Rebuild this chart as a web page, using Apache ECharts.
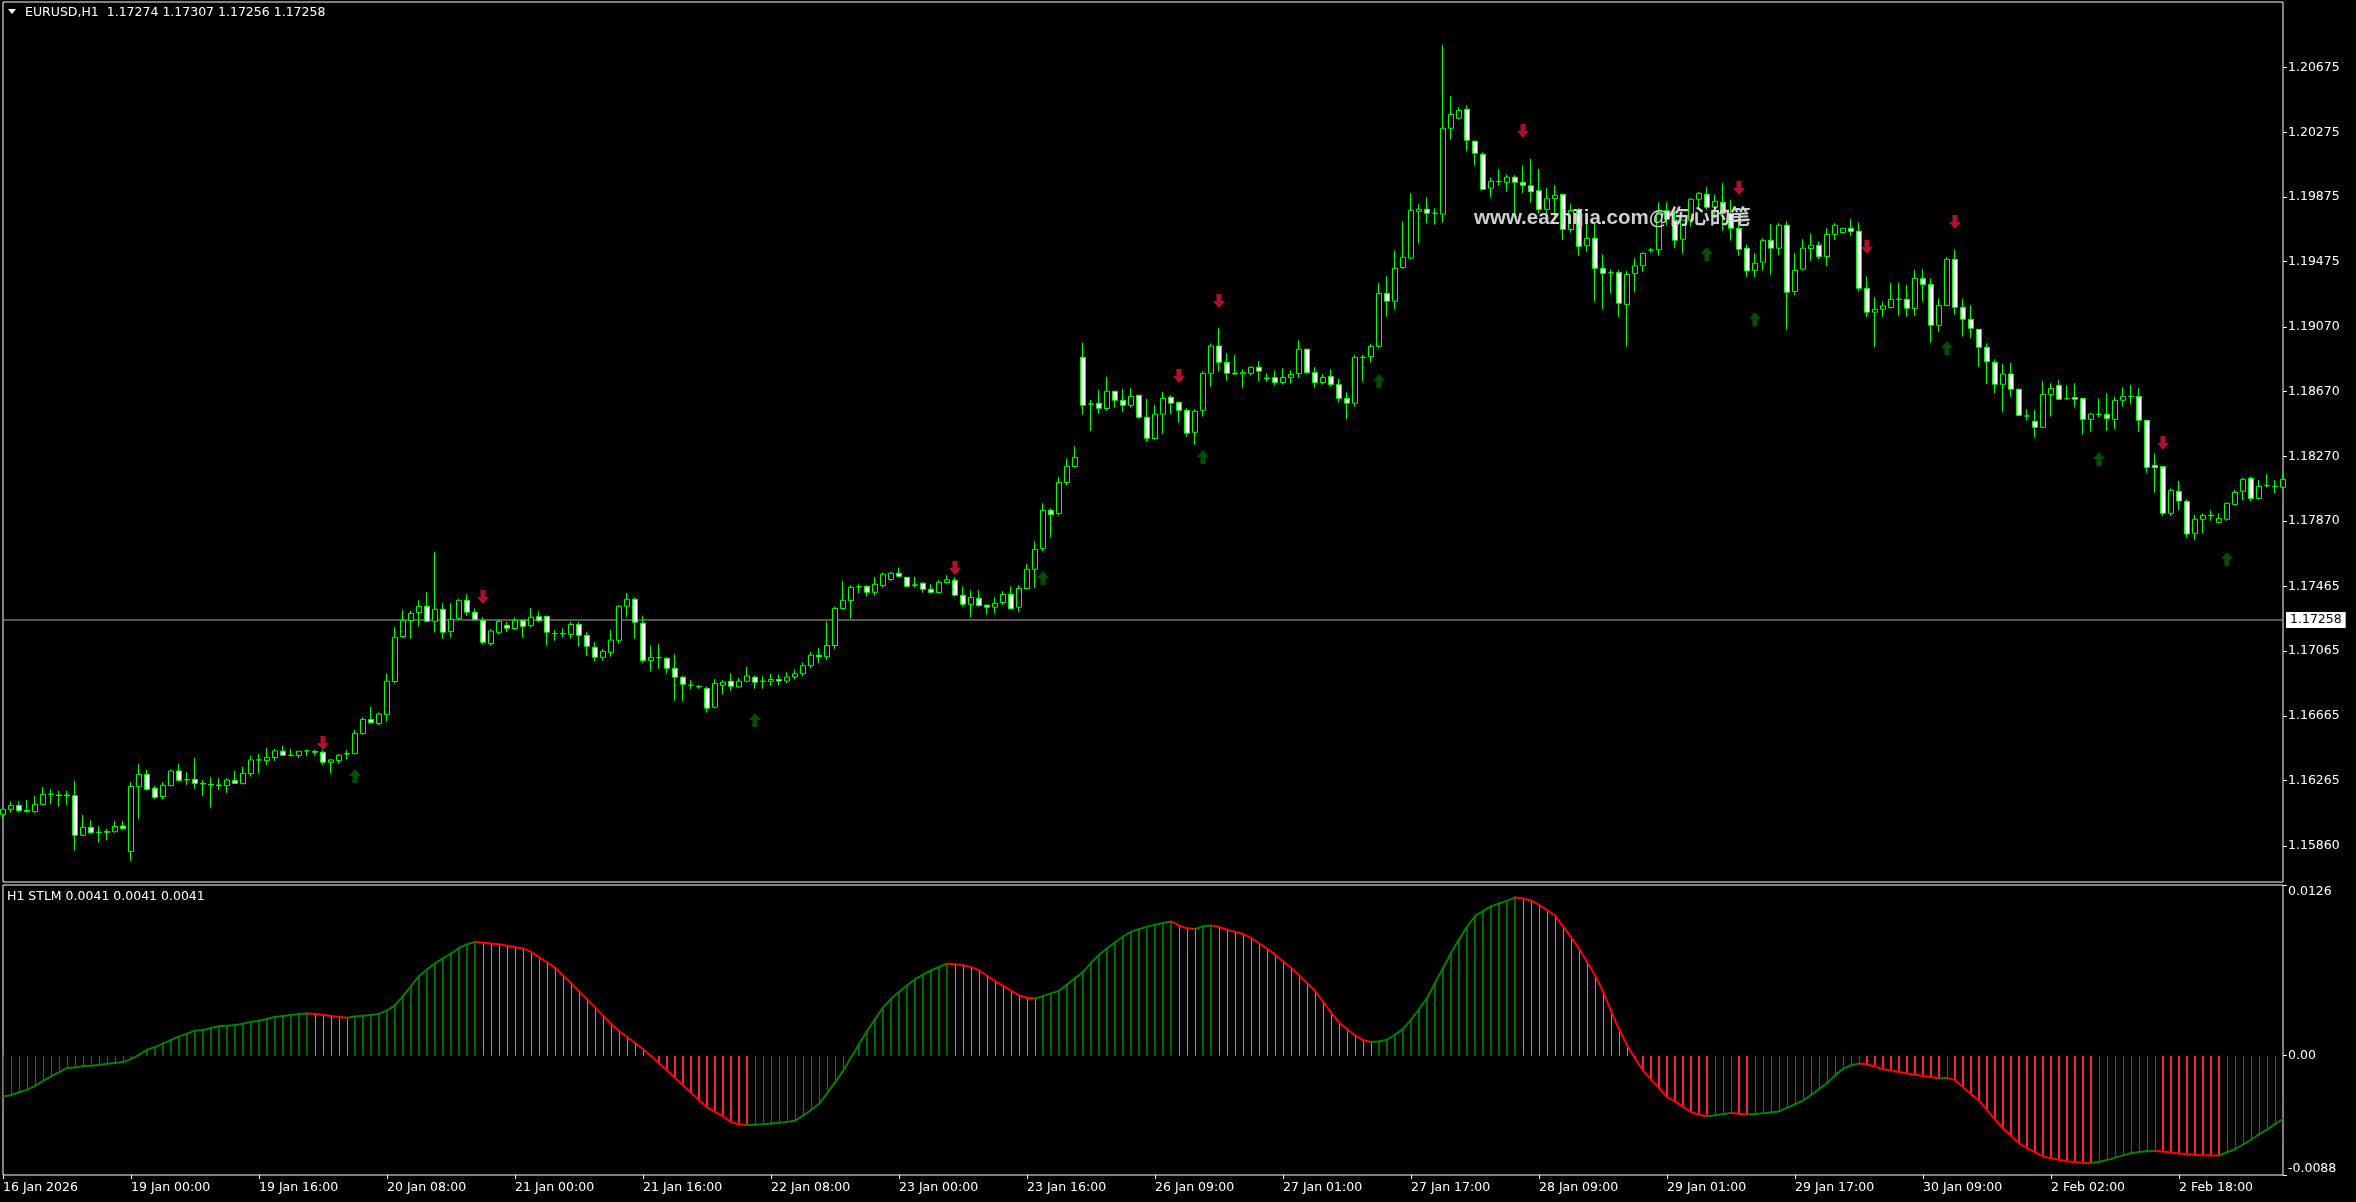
<!DOCTYPE html>
<html>
<head>
<meta charset="utf-8">
<title>EURUSD,H1</title>
<script src="https://cdn.jsdelivr.net/npm/echarts@6/dist/echarts.min.js"></script>
<style>
  html, body { margin: 0; padding: 0; background: #000; }
  #chart { width: 2356px; height: 1202px; }
</style>
</head>
<body>
<div id="chart"></div>
<script>
// trading sessions of the H1 bars: [day, first hour, last hour]
const sessions = [
  ['16 Jan', 7, 22], ['19 Jan', 0, 23], ['20 Jan', 0, 23], ['21 Jan', 0, 23],
  ['22 Jan', 0, 23], ['23 Jan', 0, 22], ['26 Jan', 0, 23], ['27 Jan', 0, 23],
  ['28 Jan', 0, 23], ['29 Jan', 0, 23], ['30 Jan', 0, 22], ['2 Feb', 0, 23], ['3 Feb', 0, 7]
];
// time labels, one every 16 bars
const dateTicks = ['16 Jan 2026', '19 Jan 00:00', '19 Jan 16:00', '20 Jan 08:00', '21 Jan 00:00',
  '21 Jan 16:00', '22 Jan 08:00', '23 Jan 00:00', '23 Jan 16:00', '26 Jan 09:00', '27 Jan 01:00',
  '27 Jan 17:00', '28 Jan 09:00', '29 Jan 01:00', '29 Jan 17:00', '30 Jan 09:00', '2 Feb 02:00', '2 Feb 18:00'];
const priceTicks = [1.20675, 1.20275, 1.19875, 1.19475, 1.19070, 1.18670, 1.18270,
  1.17870, 1.17465, 1.17065, 1.16665, 1.16265, 1.15860];
const stlmTicks = [-0.0088, 0, 0.0126];
const bidPrice = 1.17258;

const openP = [
  1.16056,1.16087,1.16111,1.16080,1.16072,1.16118,1.16180,1.16175,1.16175,1.16171,
  1.15926,1.15975,1.15944,1.15944,1.15948,1.15983,1.15825,1.16229,1.16303,1.16217,
  1.16165,1.16233,1.16324,1.16270,1.16272,1.16247,1.16240,1.16237,1.16233,1.16266,
  1.16245,1.16307,1.16392,1.16388,1.16406,1.16446,1.16421,1.16419,1.16448,1.16444,
  1.16440,1.16378,1.16388,1.16429,1.16431,1.16555,1.16643,1.16617,1.16672,1.16877,
  1.17155,1.17254,1.17303,1.17343,1.17250,1.17324,1.17186,1.17266,1.17380,1.17306,
  1.17256,1.17112,1.17182,1.17225,1.17205,1.17256,1.17223,1.17279,1.17281,1.17174,
  1.17174,1.17169,1.17231,1.17163,1.17089,1.17027,1.17058,1.17132,1.17343,1.17386,
  1.17238,1.17009,1.17025,1.17021,1.16959,1.16904,1.16854,1.16846,1.16835,1.16718,
  1.16854,1.16879,1.16844,1.16879,1.16904,1.16879,1.16879,1.16890,1.16880,1.16905,
  1.16925,1.16975,1.17040,1.17030,1.17100,1.17328,1.17378,1.17464,1.17466,1.17429,
  1.17471,1.17508,1.17547,1.17522,1.17475,1.17485,1.17448,1.17427,1.17489,1.17504,
  1.17411,1.17355,1.17392,1.17349,1.17337,1.17366,1.17417,1.17337,1.17452,1.17572,
  1.17699,1.17937,1.17916,1.18108,1.18207,1.18883,1.18594,1.18599,1.18566,1.18673,
  1.18617,1.18586,1.18648,1.18512,1.18380,1.18531,1.18636,1.18605,1.18555,1.18419,
  1.18555,1.18784,1.18953,1.18852,1.18784,1.18780,1.18784,1.18821,1.18755,1.18757,
  1.18727,1.18757,1.18782,1.18933,1.18788,1.18727,1.18764,1.18714,1.18629,1.18599,
  1.18883,1.18887,1.18951,1.19279,1.19230,1.19438,1.19496,1.19786,1.19799,1.19774,
  1.19768,1.20300,1.20362,1.20417,1.20219,1.20139,1.19929,1.19970,1.19966,1.19997,
  1.19966,1.19944,1.19913,1.19798,1.19866,1.19891,1.19674,1.19798,1.19573,1.19619,
  1.19433,1.19406,1.19408,1.19210,1.19402,1.19449,1.19546,1.19548,1.19790,1.19731,
  1.19613,1.19731,1.19861,1.19892,1.19811,1.19842,1.19774,1.19681,1.19558,1.19421,
  1.19471,1.19607,1.19558,1.19700,1.19290,1.19428,1.19556,1.19576,1.19506,1.19644,
  1.19654,1.19681,1.19663,1.19310,1.19162,1.19180,1.19191,1.19242,1.19242,1.19186,
  1.19371,1.19334,1.19081,1.19204,1.19489,1.19192,1.19118,1.19056,1.18945,1.18852,
  1.18716,1.18780,1.18685,1.18520,1.18487,1.18450,1.18654,1.18709,1.18627,1.18635,
  1.18629,1.18499,1.18530,1.18530,1.18499,1.18617,1.18641,1.18641,1.18493,1.18215,
  1.18208,1.17918,1.18054,1.17992,1.17794,1.17881,1.17905,1.17862,1.17881,1.17973,
  1.18054,1.18134,1.18010,1.18089,1.18083,1.18079
];
const highP = [
  1.16091,1.16136,1.16136,1.16144,1.16169,1.16225,1.16212,1.16200,1.16200,1.16262,
  1.16052,1.16021,1.15984,1.15965,1.16014,1.16014,1.16254,1.16367,1.16330,1.16231,
  1.16254,1.16330,1.16367,1.16318,1.16404,1.16268,1.16287,1.16280,1.16280,1.16324,
  1.16349,1.16417,1.16429,1.16466,1.16460,1.16479,1.16460,1.16446,1.16454,1.16454,
  1.16454,1.16398,1.16429,1.16454,1.16577,1.16656,1.16720,1.16685,1.16928,1.17213,
  1.17320,1.17314,1.17380,1.17429,1.17679,1.17361,1.17361,1.17386,1.17419,1.17330,
  1.17275,1.17200,1.17258,1.17246,1.17275,1.17258,1.17330,1.17312,1.17283,1.17196,
  1.17207,1.17246,1.17246,1.17182,1.17122,1.17077,1.17196,1.17349,1.17425,1.17398,
  1.17283,1.17101,1.17110,1.17027,1.17046,1.16910,1.16885,1.16854,1.16846,1.16891,
  1.16885,1.16928,1.16899,1.16967,1.16912,1.16912,1.16925,1.16920,1.16935,1.16950,
  1.16995,1.17060,1.17085,1.17248,1.17340,1.17499,1.17473,1.17479,1.17473,1.17524,
  1.17553,1.17553,1.17580,1.17524,1.17524,1.17491,1.17479,1.17504,1.17535,1.17522,
  1.17466,1.17442,1.17442,1.17355,1.17398,1.17436,1.17466,1.17473,1.17605,1.17745,
  1.17980,1.17949,1.18141,1.18258,1.18333,1.18972,1.18619,1.18681,1.18761,1.18675,
  1.18687,1.18693,1.18650,1.18625,1.18588,1.18669,1.18650,1.18607,1.18568,1.18561,
  1.18795,1.18966,1.19065,1.18908,1.18896,1.18809,1.18827,1.18858,1.18784,1.18803,
  1.18815,1.18803,1.18988,1.18935,1.18821,1.18778,1.18809,1.18751,1.18667,1.18896,
  1.18896,1.18964,1.19341,1.19384,1.19545,1.19724,1.19898,1.19830,1.19873,1.19805,
  1.20816,1.20498,1.20430,1.20442,1.20225,1.20151,1.19997,1.20046,1.20015,1.20009,
  1.20071,1.20110,1.20047,1.19932,1.19946,1.19893,1.19831,1.19804,1.19711,1.19711,
  1.19520,1.19427,1.19423,1.19417,1.19497,1.19532,1.19559,1.19841,1.19842,1.19795,
  1.19731,1.19867,1.19904,1.19935,1.19892,1.19960,1.19857,1.19743,1.19578,1.19527,
  1.19619,1.19706,1.19712,1.19725,1.19527,1.19613,1.19646,1.19601,1.19681,1.19712,
  1.19681,1.19737,1.19718,1.19382,1.19254,1.19228,1.19341,1.19347,1.19331,1.19423,
  1.19429,1.19371,1.19248,1.19501,1.19547,1.19242,1.19204,1.19058,1.18969,1.18870,
  1.18841,1.18848,1.18691,1.18561,1.18557,1.18736,1.18722,1.18742,1.18709,1.18722,
  1.18631,1.18536,1.18629,1.18660,1.18639,1.18697,1.18712,1.18691,1.18495,1.18289,
  1.18211,1.18072,1.18118,1.18004,1.17907,1.17918,1.17938,1.17918,1.17984,1.18062,
  1.18138,1.18145,1.18124,1.18161,1.18124,1.18161
];
const lowP = [
  1.16031,1.16066,1.16070,1.16066,1.16066,1.16113,1.16120,1.16103,1.16115,1.15831,
  1.15922,1.15934,1.15881,1.15897,1.15942,1.15959,1.15769,1.16027,1.16202,1.16149,
  1.16149,1.16231,1.16258,1.16237,1.16214,1.16169,1.16097,1.16206,1.16188,1.16243,
  1.16243,1.16289,1.16307,1.16361,1.16386,1.16417,1.16413,1.16404,1.16417,1.16423,
  1.16363,1.16307,1.16369,1.16394,1.16429,1.16549,1.16615,1.16609,1.16627,1.16866,
  1.17147,1.17143,1.17217,1.17246,1.17180,1.17143,1.17149,1.17258,1.17283,1.17254,
  1.17108,1.17099,1.17169,1.17184,1.17196,1.17149,1.17211,1.17246,1.17099,1.17130,
  1.17149,1.17143,1.17093,1.17037,1.17002,1.17007,1.17031,1.17114,1.17277,1.17143,
  1.16994,1.16939,1.16957,1.16926,1.16759,1.16753,1.16829,1.16833,1.16685,1.16712,
  1.16798,1.16821,1.16840,1.16875,1.16833,1.16833,1.16850,1.16855,1.16865,1.16890,
  1.16910,1.16960,1.16990,1.17010,1.17080,1.17320,1.17266,1.17423,1.17403,1.17411,
  1.17458,1.17502,1.17520,1.17462,1.17458,1.17427,1.17423,1.17421,1.17485,1.17403,
  1.17341,1.17273,1.17341,1.17291,1.17297,1.17353,1.17322,1.17310,1.17448,1.17458,
  1.17683,1.17768,1.17904,1.18089,1.18201,1.18528,1.18427,1.18535,1.18553,1.18572,
  1.18547,1.18572,1.18504,1.18361,1.18374,1.18411,1.18531,1.18479,1.18392,1.18343,
  1.18516,1.18702,1.18795,1.18739,1.18776,1.18696,1.18770,1.18733,1.18733,1.18708,
  1.18714,1.18720,1.18757,1.18782,1.18696,1.18714,1.18702,1.18605,1.18500,1.18578,
  1.18733,1.18852,1.18939,1.19135,1.19178,1.19432,1.19489,1.19588,1.19712,1.19704,
  1.19716,1.20230,1.20355,1.20157,1.20069,1.19918,1.19873,1.19945,1.19908,1.19743,
  1.19898,1.19840,1.19773,1.19742,1.19753,1.19608,1.19654,1.19509,1.19536,1.19227,
  1.19183,1.19278,1.19134,1.18948,1.19289,1.19412,1.19532,1.19511,1.19700,1.19558,
  1.19527,1.19692,1.19799,1.19795,1.19743,1.19667,1.19605,1.19512,1.19382,1.19378,
  1.19419,1.19393,1.19516,1.19052,1.19269,1.19419,1.19481,1.19492,1.19448,1.19609,
  1.19646,1.19634,1.19290,1.19131,1.18945,1.19131,1.19186,1.19141,1.19135,1.19140,
  1.19227,1.18973,1.19041,1.19200,1.19147,1.19011,1.19004,1.18825,1.18716,1.18660,
  1.18543,1.18639,1.18520,1.18491,1.18388,1.18448,1.18516,1.18621,1.18619,1.18573,
  1.18406,1.18423,1.18512,1.18429,1.18437,1.18578,1.18596,1.18423,1.18169,1.18046,
  1.17901,1.17901,1.17938,1.17767,1.17753,1.17794,1.17872,1.17860,1.17872,1.17965,
  1.18000,1.17996,1.18004,1.18079,1.18041,1.18072
];
const closeP = [
  1.16087,1.16111,1.16078,1.16074,1.16118,1.16180,1.16180,1.16172,1.16170,1.15926,
  1.15975,1.15942,1.15944,1.15950,1.15981,1.15967,1.16229,1.16303,1.16210,1.16161,
  1.16235,1.16324,1.16266,1.16270,1.16247,1.16243,1.16237,1.16233,1.16268,1.16247,
  1.16309,1.16392,1.16392,1.16408,1.16448,1.16421,1.16421,1.16446,1.16448,1.16440,
  1.16378,1.16392,1.16421,1.16431,1.16557,1.16643,1.16623,1.16676,1.16879,1.17151,
  1.17256,1.17299,1.17343,1.17250,1.17324,1.17182,1.17262,1.17380,1.17306,1.17260,
  1.17120,1.17190,1.17250,1.17207,1.17256,1.17219,1.17275,1.17254,1.17182,1.17174,
  1.17172,1.17231,1.17163,1.17095,1.17027,1.17064,1.17134,1.17343,1.17386,1.17244,
  1.17007,1.17027,1.17025,1.16959,1.16904,1.16860,1.16854,1.16844,1.16712,1.16866,
  1.16873,1.16848,1.16879,1.16912,1.16873,1.16879,1.16890,1.16880,1.16905,1.16925,
  1.16975,1.17040,1.17030,1.17100,1.17330,1.17380,1.17460,1.17464,1.17429,1.17479,
  1.17541,1.17547,1.17528,1.17466,1.17473,1.17448,1.17429,1.17491,1.17506,1.17411,
  1.17355,1.17398,1.17347,1.17337,1.17361,1.17417,1.17328,1.17454,1.17572,1.17695,
  1.17937,1.17910,1.18110,1.18209,1.18264,1.18586,1.18594,1.18568,1.18673,1.18617,
  1.18586,1.18642,1.18512,1.18382,1.18531,1.18629,1.18599,1.18555,1.18413,1.18549,
  1.18784,1.18953,1.18852,1.18784,1.18780,1.18788,1.18821,1.18797,1.18751,1.18727,
  1.18759,1.18778,1.18933,1.18788,1.18727,1.18759,1.18714,1.18629,1.18599,1.18883,
  1.18883,1.18951,1.19279,1.19230,1.19434,1.19502,1.19793,1.19799,1.19774,1.19774,
  1.20300,1.20386,1.20411,1.20225,1.20145,1.19922,1.19972,1.19970,1.19997,1.19966,
  1.19947,1.19907,1.19798,1.19864,1.19885,1.19674,1.19792,1.19569,1.19619,1.19433,
  1.19402,1.19406,1.19217,1.19396,1.19449,1.19526,1.19546,1.19779,1.19737,1.19607,
  1.19731,1.19861,1.19898,1.19811,1.19848,1.19774,1.19681,1.19551,1.19417,1.19465,
  1.19607,1.19558,1.19700,1.19285,1.19421,1.19558,1.19576,1.19506,1.19644,1.19700,
  1.19681,1.19661,1.19310,1.19162,1.19180,1.19201,1.19242,1.19242,1.19186,1.19371,
  1.19334,1.19081,1.19204,1.19489,1.19192,1.19118,1.19062,1.18945,1.18856,1.18716,
  1.18780,1.18685,1.18524,1.18520,1.18450,1.18654,1.18691,1.18623,1.18627,1.18623,
  1.18499,1.18532,1.18530,1.18505,1.18617,1.18641,1.18641,1.18493,1.18202,1.18200,
  1.17918,1.18060,1.17994,1.17790,1.17881,1.17905,1.17903,1.17887,1.17980,1.18048,
  1.18128,1.18010,1.18085,1.18089,1.18083,1.18128
];
// STLM indicator value per bar
const stlm = [
  -0.00301,-0.00291,-0.00269,-0.00252,-0.00222,-0.00185,-0.00153,-0.00123,-0.00091,-0.00086,
  -0.00077,-0.00074,-0.00069,-0.00059,-0.00054,-0.00047,-0.00025,0.00007,0.00044,0.00064,
  0.00089,0.00116,0.00141,0.00163,0.00185,0.00190,0.00205,0.00217,0.00222,0.00225,
  0.00237,0.00249,0.00259,0.00271,0.00286,0.00294,0.00301,0.00309,0.00311,0.00308,
  0.00301,0.00294,0.00286,0.00281,0.00289,0.00296,0.00301,0.00309,0.00333,0.00373,
  0.00439,0.00513,0.00587,0.00637,0.00681,0.00718,0.00753,0.00795,0.00822,0.00839,
  0.00834,0.00829,0.00822,0.00812,0.00800,0.00792,0.00767,0.00728,0.00689,0.00650,
  0.00593,0.00535,0.00476,0.00417,0.00357,0.00296,0.00236,0.00182,0.00138,0.00094,
  0.00050,-0.00001,-0.00055,-0.00109,-0.00162,-0.00217,-0.00273,-0.00328,-0.00381,-0.00414,
  -0.00446,-0.00490,-0.00505,-0.00512,-0.00510,-0.00506,-0.00500,-0.00494,-0.00488,-0.00479,
  -0.00444,-0.00400,-0.00356,-0.00277,-0.00197,-0.00114,-0.00014,0.00085,0.00180,0.00268,
  0.00355,0.00420,0.00470,0.00519,0.00563,0.00598,0.00630,0.00655,0.00679,0.00676,
  0.00668,0.00655,0.00630,0.00590,0.00550,0.00516,0.00481,0.00445,0.00428,0.00423,
  0.00440,0.00460,0.00479,0.00525,0.00571,0.00617,0.00684,0.00743,0.00792,0.00836,
  0.00880,0.00914,0.00933,0.00953,0.00966,0.00979,0.00991,0.00962,0.00940,0.00935,
  0.00955,0.00962,0.00950,0.00930,0.00914,0.00898,0.00870,0.00830,0.00791,0.00746,
  0.00698,0.00650,0.00594,0.00537,0.00479,0.00399,0.00320,0.00246,0.00198,0.00150,
  0.00115,0.00101,0.00105,0.00118,0.00155,0.00198,0.00264,0.00343,0.00423,0.00538,
  0.00645,0.00757,0.00857,0.00949,0.01031,0.01067,0.01102,0.01123,0.01143,0.01168,
  0.01160,0.01146,0.01114,0.01075,0.01035,0.00955,0.00876,0.00792,0.00693,0.00594,
  0.00475,0.00329,0.00197,0.00080,-0.00020,-0.00108,-0.00176,-0.00236,-0.00307,-0.00337,
  -0.00377,-0.00415,-0.00435,-0.00446,-0.00440,-0.00430,-0.00422,-0.00428,-0.00434,-0.00430,
  -0.00425,-0.00418,-0.00411,-0.00385,-0.00358,-0.00331,-0.00290,-0.00246,-0.00202,-0.00145,
  -0.00097,-0.00070,-0.00058,-0.00064,-0.00080,-0.00099,-0.00108,-0.00120,-0.00131,-0.00141,
  -0.00149,-0.00156,-0.00168,-0.00163,-0.00180,-0.00230,-0.00285,-0.00330,-0.00401,-0.00472,
  -0.00535,-0.00590,-0.00646,-0.00682,-0.00712,-0.00743,-0.00757,-0.00768,-0.00779,-0.00785,
  -0.00790,-0.00792,-0.00784,-0.00770,-0.00752,-0.00735,-0.00720,-0.00710,-0.00704,-0.00702,
  -0.00707,-0.00714,-0.00721,-0.00727,-0.00731,-0.00734,-0.00736,-0.00737,-0.00712,-0.00690,
  -0.00655,-0.00620,-0.00580,-0.00545,-0.00505,-0.00467
];
// signal arrows: bar index and price level
const downIdx = [40, 60, 119, 147, 152, 190, 217, 233, 244, 270];
const downPrice = [1.16497, 1.17400, 1.17580, 1.18767, 1.19231, 1.20283, 1.19930, 1.19565, 1.19720, 1.18353];
const upIdx = [44, 94, 130, 150, 172, 213, 219, 243, 262, 278];
const upPrice = [1.16293, 1.16639, 1.17518, 1.18266, 1.18736, 1.19522, 1.19120, 1.18941, 1.18254, 1.17635];

const categories = [];
sessions.forEach(([day, from, to]) => {
  for (let h = from; h <= to; h++) categories.push(day + ' ' + String(h).padStart(2, '0') + ':00');
});

const candleData = categories.map((c, i) => [openP[i], closeP[i], lowP[i], highP[i]]);
const stlmData = stlm.map((v, i) => [i, v, i > 0 ? stlm[i - 1] : v]);
const bidLine = [[0, bidPrice], [categories.length - 1, bidPrice]];

const FONT = 'DejaVu Sans';
const FS = 12.5;
const chart = echarts.init(document.getElementById('chart'));

const option = {
  backgroundColor: '#000',
  animation: false,
  textStyle: { fontFamily: FONT },
  grid: [
    { left: 3, top: 2, width: 2280, height: 880, show: true, borderColor: '#fff', borderWidth: 1 },
    { left: 3, top: 885, width: 2280, height: 290, show: true, borderColor: '#fff', borderWidth: 1 }
  ],
  xAxis: [
    { type: 'category', gridIndex: 0, data: categories, boundaryGap: false,
      axisLine: { show: false, onZero: false }, axisTick: { show: false }, axisLabel: { show: false },
      splitLine: { show: false } },
    { type: 'category', gridIndex: 1, data: categories, boundaryGap: false, position: 'bottom',
      axisLine: { show: false, onZero: false },
      axisTick: { show: true, interval: 15, length: 4, lineStyle: { color: '#fff' } },
      axisLabel: {
        interval: 15, align: 'left', margin: 6, color: '#fff', fontSize: FS, fontFamily: FONT,
        formatter: (val, idx) => dateTicks[idx / 16] || ''
      },
      splitLine: { show: false } }
  ],
  yAxis: [
    { type: 'value', gridIndex: 0, position: 'right', min: 1.15637, max: 1.21081,
      axisLine: { show: false },
      axisTick: { show: true, length: 4, customValues: priceTicks, lineStyle: { color: '#fff' } },
      axisLabel: { customValues: priceTicks, margin: 5, color: '#fff', fontSize: FS, fontFamily: FONT,
        formatter: v => v.toFixed(5) },
      splitLine: { show: false } },
    { type: 'value', gridIndex: 1, position: 'right', min: -0.0088, max: 0.0126,
      axisLine: { show: false },
      axisTick: { show: true, length: 4, customValues: stlmTicks, lineStyle: { color: '#fff' } },
      axisLabel: { customValues: stlmTicks, margin: 5, color: '#fff', fontSize: FS, fontFamily: FONT,
        verticalAlignMaxLabel: 'top', verticalAlignMinLabel: 'bottom',
        formatter: v => (v === 0 ? '0.00' : v.toFixed(4)) },
      splitLine: { show: false } }
  ],
  series: [
    {
      // bid price line with its box on the price scale
      type: 'line', xAxisIndex: 0, yAxisIndex: 0, data: bidLine, z: 1,
      symbol: 'none', silent: true,
      lineStyle: { color: '#a8a8a8', width: 1 },
      endLabel: { show: true, distance: 3, formatter: bidPrice.toFixed(5), color: '#000',
        backgroundColor: '#fff', padding: [2, 4, 1, 4], fontSize: FS, fontFamily: FONT }
    },
    {
      type: 'candlestick', xAxisIndex: 0, yAxisIndex: 0, data: candleData, barWidth: 5, z: 2,
      itemStyle: { color: '#000', color0: '#fff', borderColor: '#00ff00', borderColor0: '#00ff00',
        borderColorDoji: '#00ff00', borderWidth: 1 }
    },
    {
      type: 'scatter', xAxisIndex: 0, yAxisIndex: 0, z: 5,
      data: downIdx.map((i, k) => [i, downPrice[k]]),
      symbol: 'path://M3.5,0 L8.5,0 L8.5,7 L12,7 L6,14 L0,7 L3.5,7 Z', symbolSize: [12, 14],
      itemStyle: { color: '#dc143c' }
    },
    {
      type: 'scatter', xAxisIndex: 0, yAxisIndex: 0, z: 5,
      data: upIdx.map((i, k) => [i, upPrice[k]]),
      symbol: 'path://M6,0 L12,7 L8.5,7 L8.5,14 L3.5,14 L3.5,7 L0,7 Z', symbolSize: [12, 14],
      itemStyle: { color: '#006400' }
    },
    {
      // STLM histogram: thick when moving away from zero, thin when moving back
      type: 'custom', xAxisIndex: 1, yAxisIndex: 1, data: stlmData, clip: true,
      renderItem: (params, api) => {
        const i = api.value(0), v = api.value(1), prev = api.value(2);
        const rising = v >= prev;
        let color, w;
        if (v >= 0) { color = rising ? '#006400' : '#00ff00'; w = rising ? 2 : 1; }
        else { color = rising ? '#ff0000' : '#ff2040'; w = rising ? 1 : 2; }
        const p0 = api.coord([i, 0]), p1 = api.coord([i, v]);
        const x = w === 1 ? Math.round(p0[0]) + 0.5 : Math.round(p0[0]);
        return { type: 'line', shape: { x1: x, y1: p0[1], x2: x, y2: p1[1] },
          style: { stroke: color, lineWidth: w } };
      }
    },
    {
      // STLM line, green while rising, red while falling
      type: 'custom', xAxisIndex: 1, yAxisIndex: 1, data: stlmData.slice(1), clip: true, z: 3,
      renderItem: (params, api) => {
        const i = api.value(0), v = api.value(1), prev = api.value(2);
        const a = api.coord([i - 1, prev]), b = api.coord([i, v]);
        return { type: 'line', shape: { x1: a[0], y1: a[1], x2: b[0], y2: b[1] },
          style: { stroke: v >= prev ? '#008000' : '#ff0000', lineWidth: 2, lineCap: 'round' } };
      }
    }
  ],
  graphic: [
    { type: 'polygon', shape: { points: [[8, 9], [16, 9], [12, 14]] }, style: { fill: '#fff' } },
    { type: 'text', style: { x: 25, y: 13, text: 'EURUSD,H1  1.17274 1.17307 1.17256 1.17258',
      fill: '#fff', font: FS + 'px "DejaVu Sans"', verticalAlign: 'middle' } },
    { type: 'text', style: { x: 7, y: 897, text: 'H1 STLM 0.0041 0.0041 0.0041',
      fill: '#fff', font: FS + 'px "DejaVu Sans"', verticalAlign: 'middle' } },
    { type: 'text', z: 100, style: { x: 1474, y: 218, text: 'www.eazhijia.com@伤心的笔',
      fill: '#d0d0d0', font: 'bold 20.5px "Liberation Sans", "Noto Sans CJK SC"', verticalAlign: 'middle' } }
  ]
};

chart.setOption(option);
</script>
</body>
</html>
